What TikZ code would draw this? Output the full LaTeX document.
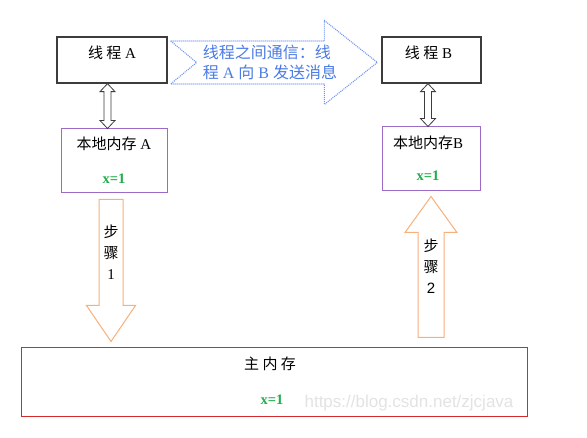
\documentclass[tikz,border=0pt]{standalone}
\usepackage{fontspec}
\setmainfont{Liberation Serif}
\newfontfamily\cjk{Noto Sans CJK SC}
\newfontfamily\wmfont{Liberation Sans}
\usepackage{xcolor}
\usetikzlibrary{calc,positioning}
\definecolor{boxgray}{HTML}{3C3C3C}
\definecolor{locpurple}{HTML}{9B6BC8}
\definecolor{memred}{HTML}{D42A2A}
\definecolor{steporange}{HTML}{F8B07A}
\definecolor{msgblue}{HTML}{6E93EE}
\definecolor{msgtext}{HTML}{4A7BE6}
\definecolor{valgreen}{HTML}{1FAF4B}

% hollow block arrow: style, tail, tip, half shaft, half head, head length
\newcommand\blockarrow[6]{%
  \path #2 coordinate (ba-s) #3 coordinate (ba-t);
  \path ($(ba-t)!#6!(ba-s)$) coordinate (ba-h);
  \draw[#1] ($(ba-s)!#4!90:(ba-t)$) -- ($(ba-h)!#4!90:(ba-t)$)
    -- ($(ba-h)!#5!90:(ba-t)$) -- (ba-t) -- ($(ba-h)!#5!-90:(ba-t)$)
    -- ($(ba-h)!#4!-90:(ba-t)$) -- ($(ba-s)!#4!-90:(ba-t)$) -- cycle;}
% hollow double-headed arrow, same arguments
\newcommand\dblarrow[6]{%
  \path #2 coordinate (da-s) #3 coordinate (da-t);
  \path ($(da-s)!#6!(da-t)$) coordinate (da-h1) ($(da-t)!#6!(da-s)$) coordinate (da-h2);
  \draw[#1] (da-s) -- ($(da-h1)!#5!90:(da-t)$) -- ($(da-h1)!#4!90:(da-t)$)
    -- ($(da-h2)!#4!90:(da-t)$) -- ($(da-h2)!#5!90:(da-t)$) -- (da-t)
    -- ($(da-h2)!#5!-90:(da-t)$) -- ($(da-h2)!#4!-90:(da-t)$)
    -- ($(da-h1)!#4!-90:(da-t)$) -- ($(da-h1)!#5!-90:(da-t)$) -- cycle;}

\begin{document}
\begin{tikzpicture}[x=1pt, y=-1pt, font=\fontsize{15}{18}\selectfont,
  thbox/.style={draw=boxgray, line width=1.3pt, fill=white, inner sep=0pt},
  locbox/.style={draw=locpurple, line width=1pt, fill=white, inner sep=0pt},
  membox/.style={draw=memred, line width=1pt, fill=white, inner sep=0pt},
  dbl/.style={draw=boxgray, line width=0.8pt, fill=white},
  stepar/.style={draw=steporange, line width=1pt, fill=white},
  msgarrow/.style={draw=msgblue, line width=1.1pt, dash pattern=on 1pt off 1pt, fill=white},
  val/.style={valgreen, font=\fontsize{14.5}{16}\selectfont\bfseries}]
  \useasboundingbox[fill=white] (0,0) rectangle (587,438);
  % boxes
  \node[thbox, minimum width=110pt, minimum height=46pt] (thA) at (112,60) {};
  \node[thbox, minimum width=99pt, minimum height=46pt] (thB) at (431.5,60) {};
  \node[locbox, minimum width=106pt, minimum height=64pt] (locA) at (114,161) {};
  \node[locbox, minimum width=98pt, minimum height=64pt] (locB) at (431,159) {};
  \node[membox, minimum width=506pt, minimum height=69pt] (mainMem) at (274,382.5) {};
  % texts in the boxes
  \node (thAl) at ($(thA.north)+(0,16)$) {{\cjk 线 程} A};
  \node (thBl) at ($(thB.north)+(-3,16)$) {{\cjk 线 程} B};
  \node (locAl) at ($(locA.north)+(0,15)$) {{\cjk 本地内存} A};
  \node (locAv) [val] at ($(locA.north)+(0,50)$) {x=1};
  \node (locBl) at ($(locB.north)+(-3,16)$) {{\cjk 本地内存}B};
  \node (locBv) [val] at ($(locB.north)+(-3,49)$) {x=1};
  \node (memL) at ($(mainMem.north)+(-4,16)$) {\cjk 主 内 存};
  \node (memV) [val] at ($(mainMem.north)+(-2,52)$) {x=1};
  % thread <-> local memory
  \dblarrow{dbl}{([xshift=-4.5pt]thA.south)}{([xshift=-4.5pt]thA.south |- locA.north)}{3.5pt}{7.5pt}{8pt}
  \dblarrow{dbl}{([xshift=-3.5pt]thB.south)}{([xshift=-3.5pt]thB.south |- locB.north)}{3.5pt}{7.5pt}{8pt}
  % step 1 (down) and step 2 (up)
  \blockarrow{stepar}{([shift={(-3,6)}]locA.south)}{([shift={(-3,-6)}]locA.south |- mainMem.north)}{12pt}{24.5pt}{36pt}
  \blockarrow{stepar}{([shift={(0,-10)}]locB.south |- mainMem.north)}{([shift={(0,5)}]locB.south)}{13pt}{26pt}{36pt}
  \node[align=center, font=\fontsize{15}{21}\selectfont] (st1) at ($(locA.south)+(-3,59)$) {{\cjk 步}\\{\cjk 骤}\\1};
  \node[align=center, font=\fontsize{15}{21}\selectfont] (st2) at ($(locB.south)+(0,75)$) {{\cjk 步}\\{\cjk 骤}\\\wmfont 2};
  % message between the threads
  \coordinate (msgS) at ([shift={(3,2.5)}]thA.east);
  \coordinate (msgT) at ([shift={(-4,2.5)}]thB.west);
  \draw[msgarrow] ($(msgS)+(0,-21.5)$) -- ($(msgT)+(-53,-21.5)$) -- ($(msgT)+(-53,-42)$)
    -- (msgT) -- ($(msgT)+(-53,42)$) -- ($(msgT)+(-53,21.5)$)
    -- ($(msgS)+(0,21.5)$) -- ($(msgS)+(26,0)$) -- cycle;
  \node[msgtext, anchor=west, align=left, inner sep=0pt, font=\fontsize{16}{20}\selectfont]
    (msgL) at ($(msgS)+(32,0)$) {{\cjk 线程之间通信：线}\\{\cjk 程} A {\cjk 向} B {\cjk 发送消息}};
  % watermark
  \node[black!11, font=\wmfont\fontsize{17}{20}\selectfont] (wm) at (409,403) {https://blog.csdn.net/zjcjava};
\end{tikzpicture}
\end{document}
